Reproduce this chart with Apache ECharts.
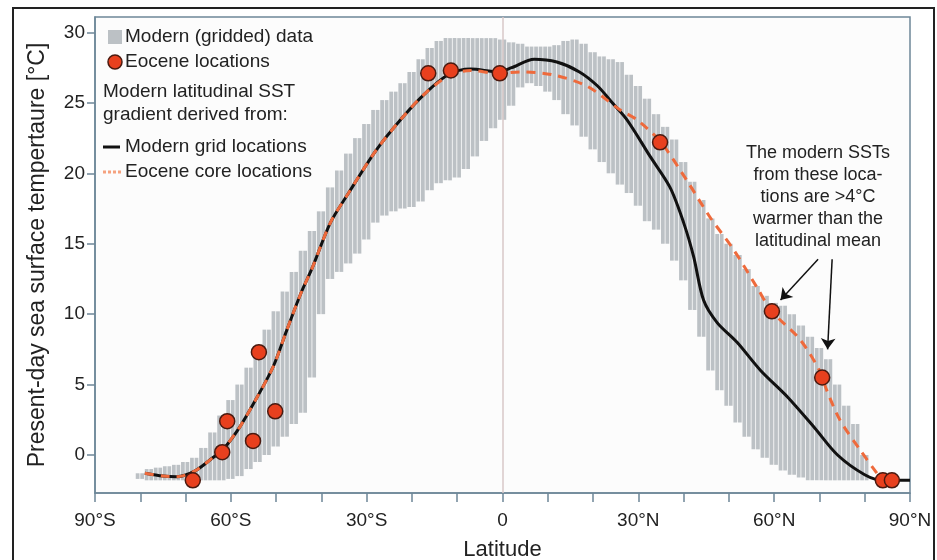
<!DOCTYPE html>
<html>
<head>
<meta charset="utf-8">
<script src="https://cdn.jsdelivr.net/npm/echarts@6/dist/echarts.min.js"></script>
<style>
  html, body { margin: 0; padding: 0; background: #fff; }
  #chart { width: 937px; height: 560px; }
</style>
</head>
<body>
<div id="chart"></div>
<script>
  // gridded modern SST range, 2 degree bins
  const bandLat = [-80, -78, -76, -74, -72, -70, -68, -66, -64, -62, -60, -58, -56, -54, -52, -50, -48, -46, -44, -42,
    -40, -38, -36, -34, -32, -30, -28, -26, -24, -22, -20, -18, -16, -14, -12, -10, -8, -6, -4, -2,
    0, 2, 4, 6, 8, 10, 12, 14, 16, 18, 20, 22, 24, 26, 28, 30, 32, 34, 36, 38,
    40, 42, 44, 46, 48, 50, 52, 54, 56, 58, 60, 62, 64, 66, 68, 70, 72, 74, 76, 78, 80];
  const bandHigh = [-1.3, -1.0, -0.9, -0.8, -0.7, -0.5, -0.2, 0.5, 1.6, 2.8, 3.9, 5.0, 6.2, 7.6, 8.9, 10.2, 11.6, 13.0, 14.5, 15.9,
    17.3, 19.0, 20.2, 21.4, 22.5, 23.5, 24.5, 25.2, 25.8, 26.4, 27.2, 28.1, 28.9, 29.4, 29.6, 29.6, 29.6, 29.6, 29.6, 29.6,
    29.5, 29.3, 29.2, 29.0, 29.0, 29.0, 29.1, 29.4, 29.5, 29.2, 28.6, 28.3, 28.1, 27.9, 27.0, 26.2, 25.3, 24.2, 23.3, 22.4,
    20.8, 19.4, 18.1, 16.8, 15.7, 15.0, 14.2, 13.2, 12.0, 11.3, 10.8, 10.6, 10.0, 9.2, 8.4, 7.6, 6.8, 5.0, 3.5, 2.2, 0.0];
  const bandLow = [-1.7, -1.8, -1.8, -1.8, -1.8, -1.8, -1.8, -1.8, -1.8, -1.8, -1.7, -1.5, -1.0, -0.5, 0.0, 0.6, 1.3, 2.2, 3.0, 5.5,
    10.0, 12.5, 13.0, 13.6, 14.3, 15.3, 16.5, 17.0, 17.3, 17.5, 17.6, 18.0, 18.8, 19.3, 19.5, 19.7, 20.3, 21.2, 22.3, 23.2,
    23.8, 24.8, 26.1, 26.4, 26.2, 25.8, 25.2, 24.2, 23.4, 22.6, 21.7, 20.8, 20.0, 19.2, 18.6, 17.7, 16.6, 16.0, 15.0, 13.8,
    12.4, 10.3, 8.4, 6.0, 4.6, 3.5, 2.3, 1.3, 0.4, -0.2, -0.7, -1.1, -1.4, -1.6, -1.8, -1.8, -1.8, -1.8, -1.8, -1.8, -1.8];

  // latitudinal mean from modern grid locations
  const gridLat = [-79, -75, -72, -68, -64, -61.7, -58, -54.2, -50.6, -47.6, -44.5, -42, -38, -34, -28, -22, -17, -12, -7, -1,
    2, 7, 12, 17, 21, 24, 27.5, 32.6, 37, 40, 42.2, 44.4, 47.4, 51.8, 57, 63, 69, 74, 80, 84, 90];
  const gridSst = [-1.3, -1.5, -1.55, -1.15, -0.2, 0.4, 2.0, 4.1, 6.3, 8.9, 11.5, 13.3, 16.5, 18.6, 21.6, 24.0, 25.7, 27.0, 27.4, 27.2,
    27.5, 28.1, 27.9, 27.2, 26.2, 25.1, 23.8, 21.2, 19.0, 16.5, 14.1, 11.0, 9.4, 8.0, 6.0, 4.1, 1.9, 0.0, -1.4, -1.8, -1.8];

  // latitudinal mean from Eocene core locations
  const coreLat = [-79, -75, -72, -68, -64, -61.7, -58, -54.2, -50.6, -47.6, -44.5, -42, -38, -34, -28, -22, -17, -11.5, -7, -1,
    4, 11, 18.6, 26, 29.7, 35, 40.7, 45.8, 51, 56.2, 59.5, 65.7, 70, 71.6, 74.5, 79, 82.7, 84];
  const coreSst = [-1.3, -1.5, -1.55, -1.15, -0.2, 0.4, 2.0, 4.1, 6.3, 8.9, 11.5, 13.3, 16.5, 18.6, 21.6, 24.0, 25.7, 27.0, 27.3, 27.1,
    27.2, 27.0, 26.2, 24.5, 23.8, 22.2, 19.5, 16.9, 14.6, 11.9, 10.2, 8.2, 6.0, 4.6, 2.5, 0.35, -1.3, -1.8];

  // Eocene site locations
  const siteLat = [-68.4, -61.9, -60.8, -55.1, -53.8, -50.2, -16.4, -11.4, -0.6, 34.8, 59.5, 70.6, 84, 86];
  const siteSst = [-1.8, 0.2, 2.4, 1.0, 7.3, 3.1, 27.1, 27.3, 27.1, 22.2, 10.2, 5.5, -1.8, -1.8];

  const yTicks = [0, 5, 10, 15, 20, 25, 30];
  const noteLines = ['The modern SSTs', 'from these loca-', 'tions are >4°C', 'warmer than the', 'latitudinal mean'];

  const zip = (a, b) => a.map((v, i) => [v, b[i]]);
  const txt = '#222';
  const axisCol = '#6d8798';
  const fontF = '"Liberation Sans", Arial, sans-serif';

  let myChart = echarts.init(document.getElementById('chart'), null, { renderer: 'canvas' });

  let legendItems = [
    { type: 'rect', shape: { x: 108, y: 30, width: 14, height: 14 }, style: { fill: '#bcc1c5' } },
    { type: 'circle', shape: { cx: 115, cy: 62, r: 7 }, style: { fill: '#e8401e', stroke: '#4a1a10', lineWidth: 1.5 } },
    { type: 'line', shape: { x1: 103, y1: 147, x2: 120, y2: 147 }, style: { stroke: '#111', lineWidth: 3 } },
    { type: 'line', shape: { x1: 103, y1: 172, x2: 121, y2: 172 }, style: { stroke: '#f5a27f', lineWidth: 3, lineDash: [3, 2] } }
  ];
  let legendTexts = [
    ['Modern (gridded) data', 125, 37],
    ['Eocene locations', 125, 62],
    ['Modern latitudinal SST', 103, 92],
    ['gradient derived from:', 103, 115],
    ['Modern grid locations', 125, 147],
    ['Eocene core locations', 125, 172]
  ].map(t => ({
    type: 'text', x: t[1], y: t[2],
    style: { text: t[0], fill: txt, font: '19px ' + fontF, textAlign: 'left', textVerticalAlign: 'middle' }
  }));
  let noteTexts = noteLines.map((s, i) => ({
    type: 'text', x: 818, y: 153 + i * 22,
    style: { text: s, fill: txt, font: '18px ' + fontF, textAlign: 'center', textVerticalAlign: 'middle' }
  }));

  myChart.setOption({
    backgroundColor: '#fff',
    animation: false,
    grid: {
      left: 95, top: 17, right: 27, bottom: 67,
      outerBoundsMode: 'none', containLabel: false,
      show: true, borderColor: axisCol, borderWidth: 1.5, backgroundColor: '#fcfcfc'
    },
    xAxis: {
      type: 'value', min: -90, max: 90, interval: 10,
      name: 'Latitude', nameLocation: 'middle', nameGap: 46,
      nameTextStyle: { fontSize: 22, color: txt, fontFamily: fontF },
      splitLine: { show: false },
      axisLine: { onZero: false, lineStyle: { color: axisCol, width: 1.5 } },
      axisTick: { length: 9, lineStyle: { color: axisCol, width: 1.5 } },
      axisLabel: {
        fontSize: 19, color: txt, fontFamily: fontF, margin: 18,
        formatter: v => v % 30 !== 0 ? '' : (v < 0 ? (-v) + '°S' : (v > 0 ? v + '°N' : '0'))
      }
    },
    yAxis: {
      type: 'value', min: -2.7, max: 31.1,
      name: 'Present-day sea surface tempertaure [°C]', nameLocation: 'middle', nameGap: 46,
      nameTextStyle: { fontSize: 23, color: txt, fontFamily: fontF },
      splitLine: { show: false },
      axisLine: { show: true, onZero: false, lineStyle: { color: axisCol, width: 1.5 } },
      axisTick: { show: true, length: 8, customValues: yTicks, lineStyle: { color: axisCol, width: 1.5 } },
      axisLabel: { fontSize: 19, color: txt, fontFamily: fontF, margin: 10, customValues: yTicks }
    },
    graphic: [
      { type: 'rect', shape: { x: 13, y: 8, width: 921, height: 570 }, style: { fill: null, stroke: '#222', lineWidth: 2 }, z: 100 },
      ...legendItems, ...legendTexts, ...noteTexts
    ],
    series: [
      {
        name: 'Modern (gridded) data',
        type: 'custom',
        z: 1,
        data: bandLat.map((lat, i) => [lat, bandLow[i], bandHigh[i]]),
        encode: { x: 0, y: [1, 2] },
        renderItem(params, api) {
          const lat = api.value(0);
          const p1 = api.coord([lat - 1, api.value(2)]);
          const p2 = api.coord([lat + 1, api.value(1)]);
          const w = p2[0] - p1[0];
          const h = p2[1] - p1[1];
          return {
            type: 'group',
            children: [
              { type: 'rect', shape: { x: p1[0], y: p1[1], width: w / 2 - 0.8, height: h }, style: { fill: '#bcc1c5' } },
              { type: 'rect', shape: { x: p1[0] + w / 2, y: p1[1], width: w / 2 - 0.8, height: h }, style: { fill: '#bcc1c5' } }
            ]
          };
        },
        markLine: {
          silent: true, symbol: 'none', label: { show: false },
          lineStyle: { color: '#d9c8c8', width: 1.5, type: 'solid' },
          data: [{ xAxis: 0 }]
        }
      },
      {
        name: 'Modern grid locations',
        type: 'line', z: 3,
        data: zip(gridLat, gridSst),
        smooth: 0.3, showSymbol: false,
        lineStyle: { color: '#111', width: 3 }
      },
      {
        name: 'Eocene core locations',
        type: 'line', z: 4,
        data: zip(coreLat, coreSst),
        smooth: 0.3, showSymbol: false,
        lineStyle: { color: '#ee6a3c', width: 3, type: [9, 7] }
      },
      {
        name: 'Eocene locations',
        type: 'scatter', z: 5,
        data: zip(siteLat, siteSst),
        symbolSize: 15,
        itemStyle: { color: '#e8401e', borderColor: '#4a1a10', borderWidth: 1.5, opacity: 1 },
        markLine: {
          silent: true, symbol: ['none', 'arrow'], symbolSize: 11,
          label: { show: false },
          lineStyle: { color: '#111', width: 1.5, type: 'solid' },
          data: [
            [{ coord: [69.7, 13.9] }, { coord: [61.4, 11.0] }],
            [{ coord: [72.8, 13.9] }, { coord: [71.8, 7.5] }]
          ]
        }
      }
    ]
  });
</script>
</body>
</html>
